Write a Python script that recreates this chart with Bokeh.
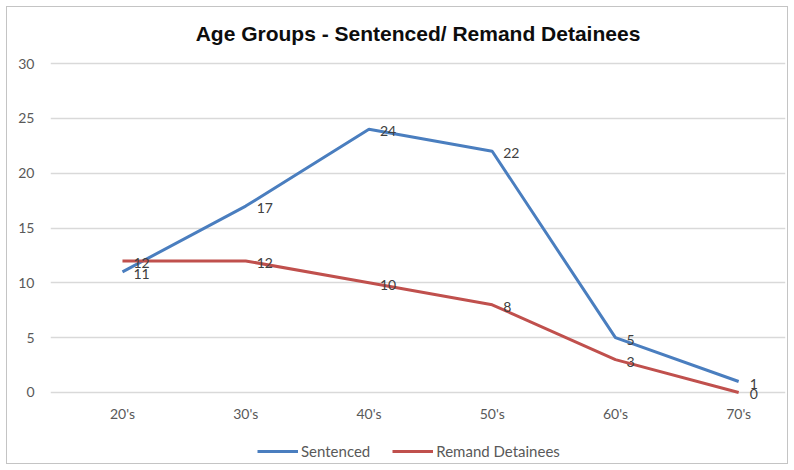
from bokeh.plotting import figure
from bokeh.layouts import column
from bokeh.core.properties import value
from bokeh.models import (ColumnDataSource, FixedTicker, Legend, LegendItem, LabelSet,
                          Range1d)
from bokeh.embed import file_html
from bokeh.resources import INLINE

# Age groups and detainee counts
age_groups = ["20's", "30's", "40's", "50's", "60's", "70's"]
sentenced = [11, 17, 24, 22, 5, 1]
remand = [12, 12, 10, 8, 3, 0]
y_ticks = [0, 5, 10, 15, 20, 25, 30]

positions = list(range(len(age_groups)))
src = ColumnDataSource(dict(
    x=positions,
    sentenced=sentenced,
    remand=remand,
    s_txt=[str(v) for v in sentenced],
    r_txt=[str(v) for v in remand],
))

BLUE = "#4a7ebf"
RED = "#c0504d"
LABEL_FONT = "Lato"

p = figure(width=794, height=430, output_backend="svg", toolbar_location=None,
           x_range=(-0.584, 5.38), y_range=(-0.73, 30.73),
           min_border_left=50, min_border_right=9,
           min_border_top=55, min_border_bottom=30)
p.outline_line_color = None
p.background_fill_alpha = 0
p.border_fill_alpha = 0

# title
p.title.text = "Age Groups - Sentenced/ Remand Detainees"
p.title.align = "center"
p.title.text_font = "Liberation Sans"
p.title.text_font_style = "bold"
p.title.text_font_size = "21px"
p.title.text_color = "#0d0d0d"
p.title.standoff = 22

# axes
p.xaxis.ticker = FixedTicker(ticks=positions)
p.xaxis.major_label_overrides = {i: g for i, g in enumerate(age_groups)}
p.yaxis.ticker = FixedTicker(ticks=y_ticks)
for ax in (p.xaxis, p.yaxis):
    ax.axis_line_color = None
    ax.major_tick_line_color = None
    ax.minor_tick_line_color = None
    ax.major_tick_out = 0
    ax.major_tick_in = 0
    ax.major_label_text_color = "#595959"
    ax.major_label_text_font = LABEL_FONT
    ax.major_label_text_font_size = "14px"
p.yaxis.major_label_standoff = 16
p.xaxis.major_label_standoff = 4

p.xgrid.grid_line_color = None
p.ygrid.ticker = FixedTicker(ticks=y_ticks)
p.ygrid.grid_line_color = "#d9d9d9"
p.ygrid.grid_line_width = 1.5

p.line("x", "sentenced", source=src, line_color=BLUE, line_width=3)
p.line("x", "remand", source=src, line_color=RED, line_width=3)

# value labels next to each point
for col, ycol in (("s_txt", "sentenced"), ("r_txt", "remand")):
    p.add_layout(LabelSet(x="x", y=ycol, text=col, source=src,
                          x_offset=11, y_offset=-2,
                          text_align="left", text_baseline="middle",
                          text_font=value(LABEL_FONT), text_font_size="14px",
                          text_color="#404040"))

# legend strip under the chart
leg_fig = figure(width=794, height=40, output_backend="svg", toolbar_location=None,
                 x_range=Range1d(0, 1), y_range=Range1d(0, 1),
                 min_border_left=0, min_border_right=0,
                 min_border_top=0, min_border_bottom=0)
leg_fig.axis.visible = False
leg_fig.grid.visible = False
leg_fig.outline_line_color = None
leg_fig.background_fill_alpha = 0
leg_fig.border_fill_alpha = 0
k_s = leg_fig.line(x=[-5, -4], y=[-5, -5], line_color=BLUE, line_width=3)
k_r = leg_fig.line(x=[-5, -4], y=[-5, -5], line_color=RED, line_width=3)
legend = Legend(items=[LegendItem(label="Sentenced", renderers=[k_s]),
                       LegendItem(label="Remand Detainees", renderers=[k_r])],
                orientation="horizontal", location=(207, 9), padding=5,
                label_text_font=LABEL_FONT, label_text_font_size="15px",
                label_text_color="#595959", glyph_width=41,
                label_standoff=3, spacing=22, border_line_color=None,
                background_fill_alpha=0)
leg_fig.add_layout(legend)

layout = column(p, leg_fig, spacing=0,
                styles={"outline": "1px solid #c4c4c4", "outline-offset": "-7px"})

open("out.html", "w").write(file_html(layout, INLINE))
